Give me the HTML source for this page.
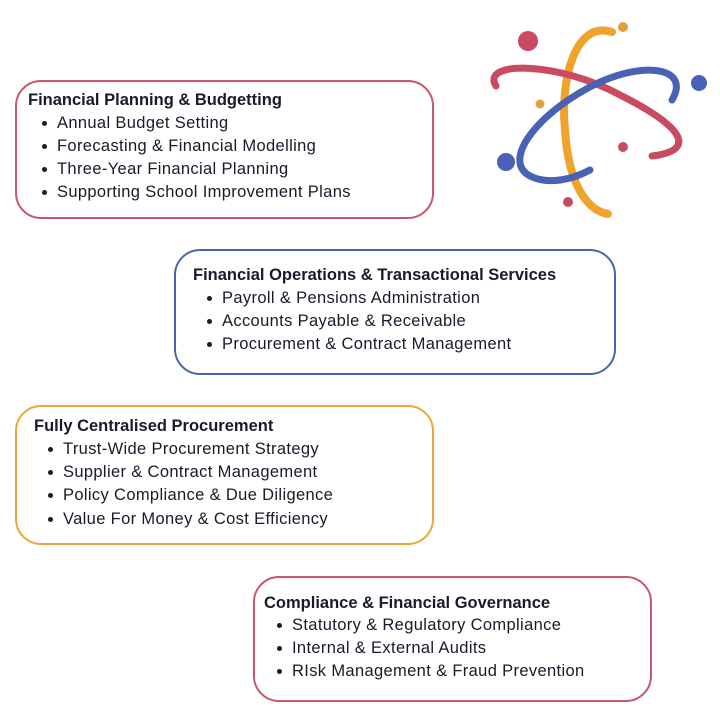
<!DOCTYPE html>
<html><head><style>
body{margin:0;width:720px;height:720px;background:#fff;position:relative;overflow:hidden;font-family:"Liberation Sans",sans-serif;color:#1a1a2a}
.box{position:absolute;border:2.5px solid;border-radius:26px;box-sizing:border-box}
.t{position:absolute;font-weight:bold;font-size:16.5px;white-space:nowrap}
.b{position:absolute;font-size:16.5px;letter-spacing:0.35px;white-space:nowrap}
.b:before{content:"";position:absolute;left:-15px;top:7px;width:5px;height:5px;border-radius:50%;background:#1a1a2a}
</style></head><body>
<svg style="position:absolute;left:0;top:0" width="720" height="230">
<g fill="none" stroke-linecap="round">
<path d="M612 32 C575 20 560 80 565 130 C568 180 585 210 608 214" stroke="#f0a32c" stroke-width="8"/>
<path d="M496 86 C480 60 560 62 620 95 C680 125 700 150 652 156" stroke="#c94b62" stroke-width="7"/>
<path d="M672 100 C690 70 650 60 600 82 C540 110 500 160 530 176 C550 186 575 178 590 170" stroke="#4a62b5" stroke-width="7"/>
</g>
<circle cx="528" cy="41" r="10" fill="#c94b62"/>
<circle cx="623" cy="27" r="5" fill="#e0a040"/>
<circle cx="699" cy="83" r="8" fill="#4a62b5"/>
<circle cx="540" cy="104" r="4.5" fill="#e0a040"/>
<circle cx="623" cy="147" r="5" fill="#c94b62"/>
<circle cx="506" cy="162" r="9" fill="#4a62b5"/>
<circle cx="568" cy="202" r="5" fill="#c94b62"/>
</svg>

<div class="box" style="left:15px;top:80px;width:419px;height:139px;border-color:#c9566a"></div>
<div class="t" style="left:28px;top:91px">Financial Planning &amp; Budgetting</div>
<div class="b" style="left:57px;top:114px">Annual Budget Setting</div>
<div class="b" style="left:57px;top:137px">Forecasting &amp; Financial Modelling</div>
<div class="b" style="left:57px;top:160px">Three-Year Financial Planning</div>
<div class="b" style="left:57px;top:183px">Supporting School Improvement Plans</div>

<div class="box" style="left:174px;top:249px;width:442px;height:126px;border-color:#4a63b0"></div>
<div class="t" style="left:193px;top:266px">Financial Operations &amp; Transactional Services</div>
<div class="b" style="left:222px;top:289px">Payroll &amp; Pensions Administration</div>
<div class="b" style="left:222px;top:312px">Accounts Payable &amp; Receivable</div>
<div class="b" style="left:222px;top:335px">Procurement &amp; Contract Management</div>

<div class="box" style="left:15px;top:405px;width:419px;height:140px;border-color:#e8a838"></div>
<div class="t" style="left:34px;top:417px">Fully Centralised Procurement</div>
<div class="b" style="left:63px;top:440px">Trust-Wide Procurement Strategy</div>
<div class="b" style="left:63px;top:463px">Supplier &amp; Contract Management</div>
<div class="b" style="left:63px;top:486px">Policy Compliance &amp; Due Diligence</div>
<div class="b" style="left:63px;top:510px">Value For Money &amp; Cost Efficiency</div>

<div class="box" style="left:253px;top:576px;width:399px;height:126px;border-color:#c9566a"></div>
<div class="t" style="left:264px;top:594px">Compliance &amp; Financial Governance</div>
<div class="b" style="left:292px;top:616px">Statutory &amp; Regulatory Compliance</div>
<div class="b" style="left:292px;top:639px">Internal &amp; External Audits</div>
<div class="b" style="left:292px;top:662px">RIsk Management &amp; Fraud Prevention</div>
</body></html>
